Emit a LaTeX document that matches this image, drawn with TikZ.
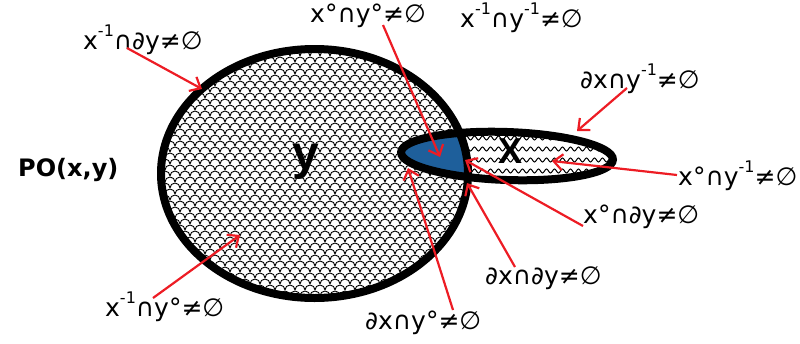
\documentclass[tikz,border=0pt]{standalone}
\usepackage{fontspec}
\setmainfont{DejaVu Sans}
\newfontfamily\libsans{Liberation Sans}
\usetikzlibrary{arrows.meta,decorations.pathmorphing}
\definecolor{regblue}{RGB}{30,95,155}
\definecolor{arrred}{RGB}{237,28,36}
\newcommand{\spx}[1]{\raisebox{0.5em}{\fontsize{16}{16}\selectfont #1}}
\begin{document}
\begin{tikzpicture}[x=1pt,y=-1pt,
  lbl/.style={font=\fontsize{25}{25}\selectfont, anchor=west, inner sep=0pt},
  arr/.style={draw=arrred, line width=2.2pt, -{Straight Barb[length=9pt,width=16pt]}},
  outline/.style={line width=8pt, draw=black},
  scaleline/.style={line width=0.9pt, draw=black},
  wave/.style={line width=1pt, draw=black, decorate, decoration={snake, amplitude=2pt, segment length=8pt}}]
\useasboundingbox (0,0) rectangle (800,343);
% fish-scale pattern in y
\begin{scope}
  \clip (314.5,173.5) ellipse [x radius=153.5, y radius=124.5];
  \foreach \j in {0,...,44} {
    \pgfmathsetmacro\yy{44+6*\j}
    \pgfmathsetmacro\xo{155+5*mod(\j,2)}
    \draw[scaleline] \foreach \i in {0,...,32} { (\xo+10*\i+5,\yy) arc (0:-180:5) };
  }
\end{scope}
% x interior
\fill[white, rotate around={-2:(507,156)}] (507,156) ellipse [x radius=106, y radius=24];
\begin{scope}
  \clip[rotate around={-2:(507,156)}] (507,156) ellipse [x radius=106, y radius=24];
  \foreach \yy in {138,149,160,171,182} {
    \draw[wave] (440,\yy) -- (625,\yy);
  }
\end{scope}
% intersection
\begin{scope}
  \clip (314.5,173.5) ellipse [x radius=153.5, y radius=124.5];
  \fill[regblue, rotate around={-2:(507,156)}] (507,156) ellipse [x radius=106, y radius=24];
\end{scope}
% outlines
\draw[outline] (314.5,173.5) ellipse [x radius=153.5, y radius=124.5];
\draw[outline, rotate around={-2:(507,156)}] (507,156) ellipse [x radius=106, y radius=24];
% region names
\node[font=\libsans\bfseries\fontsize{48}{48}\selectfont, inner sep=0pt] (ylab) at (306,162) {y};
\node[font=\libsans\bfseries\fontsize{36}{36}\selectfont, inner sep=0pt] (xlab) at (510,151) {X};
\node[font=\bfseries\fontsize{24}{24}\selectfont, anchor=west, inner sep=0pt] (po) at (18,170) {PO(x,y)};
% labels
\node[lbl] (l1) at (83,40) {x\spx{-1}∩∂y≠∅};
\node[lbl] (l2) at (310,16) {x°∩y°≠∅};
\node[lbl] (l3) at (460,18) {x\spx{-1}∩y\spx{-1}≠∅};
\node[lbl] (l4) at (580,79) {∂x∩y\spx{-1}≠∅};
\node[lbl] (l5) at (678,176) {x°∩y\spx{-1}≠∅};
\node[lbl] (l6) at (583,217) {x°∩∂y≠∅};
\node[lbl] (l7) at (485,278) {∂x∩∂y≠∅};
\node[lbl] (l8) at (365,323) {∂x∩y°≠∅};
\node[lbl] (l9) at (105,307) {x\spx{-1}∩y°≠∅};
% arrow ends
\coordinate (s1) at (127,48);  \coordinate (e1) at (202,89);
\coordinate (s2) at (383,25);  \coordinate (e2) at (440,157);
\coordinate (s3) at (627,88);  \coordinate (e3) at (577,131);
\coordinate (s4) at (677,175); \coordinate (e4) at (552,161);
\coordinate (s5) at (583,226); \coordinate (e5) at (465,160);
\coordinate (s6) at (515,267); \coordinate (e6) at (467,183);
\coordinate (s7) at (453,310); \coordinate (e7) at (408,168);
\coordinate (s8) at (153,298); \coordinate (e8) at (240,235);
\draw[arr] (s1) -- (e1);
\draw[arr] (s2) -- (e2);
\draw[arr] (s3) -- (e3);
\draw[arr] (s4) -- (e4);
\draw[arr] (s5) -- (e5);
\draw[arr] (s6) -- (e6);
\draw[arr] (s7) -- (e7);
\draw[arr] (s8) -- (e8);
\end{tikzpicture}
\end{document}
